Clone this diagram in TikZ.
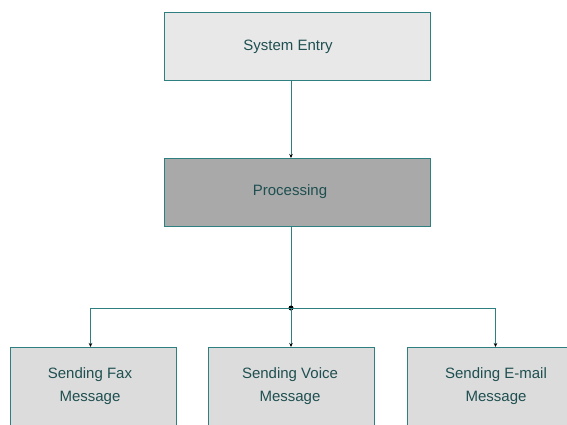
\documentclass[tikz,border=0pt]{standalone}
\usepackage{fontspec}
\setmainfont{Liberation Sans}
\usetikzlibrary{arrows.meta}
\definecolor{edgeteal}{HTML}{2E8080}
\definecolor{topfill}{HTML}{E8E8E8}
\definecolor{procfill}{HTML}{A9A9A9}
\definecolor{botfill}{HTML}{DCDCDC}
\definecolor{txt}{HTML}{1F4F50}
\tikzset{
  box/.style={draw=edgeteal, line width=1pt, anchor=north west, inner sep=0pt},
  lbl/.style={inner sep=0pt, font=\fontsize{15}{23}\selectfont, text=txt, align=center},
  conn/.style={draw=edgeteal, line width=1pt, -{Stealth[length=4pt,width=3.5pt,black]}},
  plainconn/.style={draw=edgeteal, line width=1pt},
}
\begin{document}
\begin{tikzpicture}[x=1pt,y=-1pt]
\useasboundingbox (0,0) rectangle (567,425);
\clip (0,0) rectangle (567,425);
\node[box, fill=topfill, minimum width=266pt, minimum height=68pt] (entry) at (164,12) {};
\node[box, fill=procfill, minimum width=266pt, minimum height=68pt] (proc) at (164,158) {};
\node[box, fill=botfill, minimum width=166pt, minimum height=80pt] (fax) at (10,347) {};
\node[box, fill=botfill, minimum width=166pt, minimum height=80pt] (voice) at (208,347) {};
\node[box, fill=botfill, minimum width=178pt, minimum height=80pt] (email) at (407,347) {};
\node[lbl] (entryt) at (288,47) {System Entry};
\node[lbl] (proct) at (290,192) {Processing};
\node[lbl] (faxt) at (90,386.5) {Sending Fax\\Message};
\node[lbl] (voicet) at (290,386.5) {Sending Voice\\Message};
\node[lbl] (emailt) at (496,386.5) {Sending E-mail\\Message};
\coordinate (j) at (291,308);
\draw[conn] (entry.south -| j) -- (proc.north -| j);
\draw[plainconn] (proc.south -| j) -- (j);
\fill[black] (j) circle (2.5pt);
\draw[conn] (j) -| ([xshift=-3pt]fax.north);
\draw[conn] (j) -- (voice.north -| j);
\draw[conn] (j) -| ([xshift=-1pt]email.north);
\end{tikzpicture}
\end{document}
